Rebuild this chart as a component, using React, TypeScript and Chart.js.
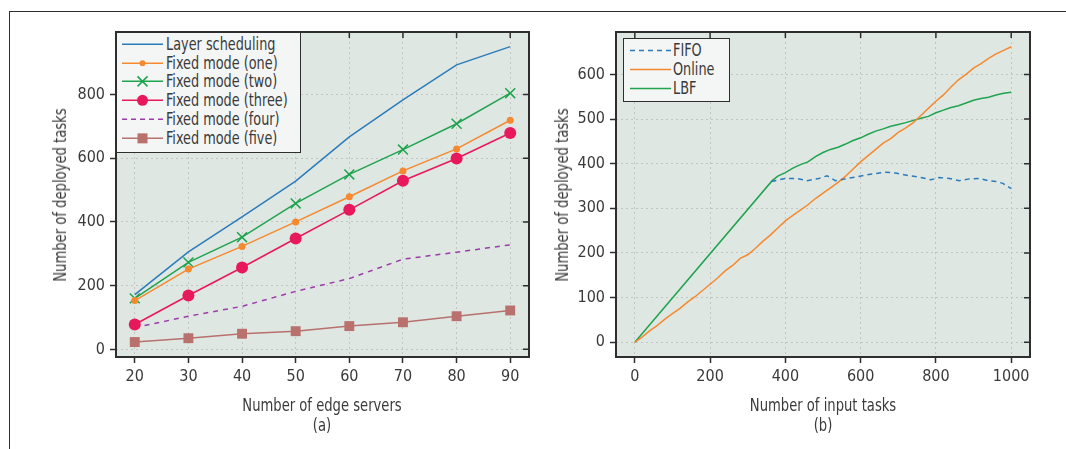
import React, { useEffect, useRef } from 'react';
import { Chart, registerables } from 'chart.js';

Chart.register(...registerables);

// ---------- data: panel (a) ----------
const edgeServers = [20, 30, 40, 50, 60, 70, 80, 90];
const layerScheduling = [172, 306, 416, 528, 667, 783, 893, 950];
const fixedOne = [153, 252, 323, 400, 479, 560, 629, 719];
const fixedTwo = [160, 273, 352, 458, 549, 627, 708, 804];
const fixedThree = [78, 169, 257, 348, 438, 529, 599, 679];
const fixedFour = [68, 104, 135, 182, 222, 283, 305, 328];
const fixedFive = [23, 35, 49, 57, 73, 85, 104, 122];
const leftSeriesNames = [
  'Layer scheduling',
  'Fixed mode (one)',
  'Fixed mode (two)',
  'Fixed mode (three)',
  'Fixed mode (four)',
  'Fixed mode (five)',
];
const leftXTicks = [20, 30, 40, 50, 60, 70, 80, 90];
const leftYTicks = [0, 200, 400, 600, 800];

// ---------- data: panel (b) ----------
const fifoTasks = [363, 400, 431, 458, 489, 511, 533, 560, 591, 622, 667, 693, 729, 756, 787, 809, 836, 862, 889, 916, 938, 960, 978, 1000];
const fifoDeployed = [360, 367, 367, 362, 367, 373, 362, 366, 371, 376, 381, 379, 373, 370, 364, 369, 367, 362, 366, 367, 362, 360, 356, 344];
const onlineTasks = [0, 20, 40, 60, 80, 100, 120, 140, 160, 180, 200, 220, 240, 260, 280, 300, 320, 340, 360, 380, 400, 420, 440, 460, 480, 500, 520, 540, 560, 580, 600, 620, 640, 660, 680, 700, 720, 740, 760, 780, 800, 820, 840, 860, 880, 900, 920, 940, 960, 980, 1000];
const onlineDeployed = [0, 12, 26, 38, 52, 64, 76, 90, 102, 116, 130, 144, 160, 172, 188, 196, 210, 226, 240, 256, 272, 284, 296, 308, 322, 334, 346, 358, 372, 388, 404, 418, 432, 446, 456, 470, 480, 492, 508, 524, 540, 554, 572, 588, 600, 614, 624, 636, 646, 654, 662];
const lbfTasks = [0, 365, 380, 400, 420, 440, 460, 480, 500, 520, 540, 560, 580, 600, 620, 640, 660, 680, 700, 720, 740, 760, 780, 800, 820, 840, 860, 880, 900, 920, 940, 960, 980, 1000];
const lbfDeployed = [0, 362, 372, 380, 390, 398, 404, 416, 425, 432, 437, 444, 452, 458, 466, 473, 478, 484, 488, 492, 497, 502, 506, 514, 520, 526, 530, 536, 542, 546, 549, 554, 558, 560];
const rightSeriesNames = ['FIFO', 'Online', 'LBF'];
const rightXTicks = [0, 200, 400, 600, 800, 1000];
const rightYTicks = [0, 100, 200, 300, 400, 500, 600];

// ---------- styles ----------
const FONT = "'Liberation Sans Narrow', 'DejaVu Sans Condensed', 'Roboto Condensed', Roboto, sans-serif";
const TEXT = '#3a3a3a';
const PLOT_BG = '#dfe7e3';
const LEGEND_BG = '#f3f6f5';
const GRID = '#c4c4c4';
const FRAME = '#2e2e2e';

const C_BLUE = '#2b7bbb';
const C_ORANGE = '#f5892f';
const C_GREEN = '#1fa34f';
const C_RED = '#e8185c';
const C_PURPLE = '#9c3ba9';
const C_BROWN = '#b8716d';

const pts = (xs: number[], ys: number[]) => xs.map((x, i) => ({ x, y: ys[i] }));

const framePlugin = {
  id: 'frame',
  beforeDraw(chart: any) {
    const { ctx, chartArea } = chart;
    const { left, top, right, bottom } = chartArea;
    ctx.save();
    ctx.fillStyle = PLOT_BG;
    ctx.fillRect(left, top, right - left, bottom - top);
    ctx.restore();
  },
  afterDraw(chart: any) {
    const { ctx, chartArea } = chart;
    const { left, top, right, bottom } = chartArea;
    ctx.save();
    ctx.strokeStyle = FRAME;
    ctx.lineWidth = 1.5;
    const xs = chart.scales.x;
    const ys = chart.scales.y;
    ctx.beginPath();
    xs.ticks.forEach((t: any) => {
      const px = xs.getPixelForValue(t.value);
      ctx.moveTo(px, top);
      ctx.lineTo(px, top + 6);
    });
    ys.ticks.forEach((t: any) => {
      const py = ys.getPixelForValue(t.value);
      ctx.moveTo(right, py);
      ctx.lineTo(right - 6, py);
    });
    ctx.stroke();
    ctx.lineWidth = 2;
    ctx.strokeRect(left, top, right - left, bottom - top);
    ctx.restore();
  },
};

type PanelProps = {
  left: number;
  width: number;
  height: number;
  padTop: number;
  padRight: number;
  yAxisWidth: number;
  xAxisHeight: number;
  datasets: any[];
  xMin: number;
  xMax: number;
  yMin: number;
  yMax: number;
  xTicks: number[];
  yTicks: number[];
};

function Panel(p: PanelProps) {
  const ref = useRef<HTMLCanvasElement>(null);
  useEffect(() => {
    const tickFont = { family: FONT, size: 16 };
    const gridOpts = {
      color: GRID,
      lineWidth: 1,
      drawTicks: true,
      tickLength: 6,
      tickColor: FRAME,
      tickWidth: 1.5,
      tickBorderDash: [],
    };
    const chart = new Chart(ref.current as HTMLCanvasElement, {
      type: 'line',
      data: { datasets: p.datasets },
      options: {
        animation: false,
        responsive: false,
        maintainAspectRatio: false,
        layout: { padding: { top: p.padTop, right: p.padRight, left: 0, bottom: 0 } },
        plugins: { legend: { display: false }, tooltip: { enabled: false } },
        elements: { line: { tension: 0 } },
        scales: {
          x: {
            type: 'linear',
            min: p.xMin,
            max: p.xMax,
            afterBuildTicks: (s: any) => {
              s.ticks = p.xTicks.map((v) => ({ value: v }));
            },
            afterFit: (s: any) => {
              s.height = p.xAxisHeight;
            },
            ticks: {
              font: tickFont,
              color: TEXT,
              padding: 4,
              maxRotation: 0,
              autoSkip: false,
              callback: (v: any) => String(v),
            },
            grid: gridOpts,
            border: { display: false, dash: [2, 3] },
          },
          y: {
            type: 'linear',
            min: p.yMin,
            max: p.yMax,
            afterBuildTicks: (s: any) => {
              s.ticks = p.yTicks.map((v) => ({ value: v }));
            },
            afterFit: (s: any) => {
              s.width = p.yAxisWidth;
            },
            ticks: {
              font: tickFont,
              color: TEXT,
              padding: 5,
              autoSkip: false,
              callback: (v: any) => String(v),
            },
            grid: gridOpts,
            border: { display: false, dash: [2, 3] },
          },
        },
      } as any,
      plugins: [framePlugin],
    });
    return () => chart.destroy();
  }, []);
  return (
    <canvas
      ref={ref}
      width={p.width}
      height={p.height}
      style={{ position: 'absolute', left: p.left, top: 0, width: p.width, height: p.height }}
    />
  );
}

function Label(props: { x: number; y: number; text: string; rotate?: boolean }) {
  return (
    <div
      style={{
        position: 'absolute',
        left: props.x,
        top: props.y,
        transform: `translate(-50%, -50%) ${props.rotate ? 'rotate(-90deg) ' : ''}scaleX(0.86)`,
        fontFamily: FONT,
        fontSize: 17,
        lineHeight: '20px',
        color: TEXT,
        whiteSpace: 'nowrap',
      }}
    >
      {props.text}
    </div>
  );
}

type LegendItem = {
  label: string;
  color: string;
  dash?: string;
  marker?: 'dot' | 'circle' | 'cross' | 'square';
};

function Legend(props: {
  left: number;
  top: number;
  width: number;
  height: number;
  rowH: number;
  padTop: number;
  lineX1: number;
  lineX2: number;
  textX: number;
  items: LegendItem[];
}) {
  const { rowH, lineX1, lineX2 } = props;
  const cx = (lineX1 + lineX2) / 2;
  const cy = rowH / 2;
  return (
    <div
      style={{
        position: 'absolute',
        left: props.left,
        top: props.top,
        width: props.width,
        height: props.height,
        boxSizing: 'border-box',
        background: LEGEND_BG,
        border: `1.5px solid ${FRAME}`,
        fontFamily: FONT,
        fontSize: 17,
        color: TEXT,
      }}
    >
      {props.items.map((it, i) => (
        <div
          key={i}
          style={{ position: 'absolute', left: 0, top: props.padTop + i * rowH, height: rowH, width: '100%' }}
        >
          <svg
            width={lineX2 + 2}
            height={rowH}
            style={{ position: 'absolute', left: 0, top: 0, display: 'block' }}
          >
            <line
              x1={lineX1}
              x2={lineX2}
              y1={cy}
              y2={cy}
              stroke={it.color}
              strokeWidth={1.5}
              strokeDasharray={it.dash}
            />
            {it.marker === 'dot' && <circle cx={cx} cy={cy} r={3} fill={it.color} />}
            {it.marker === 'circle' && <circle cx={cx} cy={cy} r={5.5} fill={it.color} />}
            {it.marker === 'cross' && (
              <path
                d={`M${cx - 5} ${cy - 5} L${cx + 5} ${cy + 5} M${cx - 5} ${cy + 5} L${cx + 5} ${cy - 5}`}
                stroke={it.color}
                strokeWidth={1.5}
              />
            )}
            {it.marker === 'square' && <rect x={cx - 5} y={cy - 5} width={10} height={10} fill={it.color} />}
          </svg>
          <span
            style={{
              position: 'absolute',
              left: props.textX,
              top: 0,
              lineHeight: `${rowH}px`,
              whiteSpace: 'nowrap',
              transform: 'scaleX(0.84)',
              transformOrigin: 'left center',
            }}
          >
            {it.label}
          </span>
        </div>
      ))}
    </div>
  );
}

export default function App() {
  const leftDatasets = [
    {
      label: leftSeriesNames[0],
      data: pts(edgeServers, layerScheduling),
      borderColor: C_BLUE,
      borderWidth: 1.5,
      pointRadius: 0,
    },
    {
      label: leftSeriesNames[1],
      data: pts(edgeServers, fixedOne),
      borderColor: C_ORANGE,
      backgroundColor: C_ORANGE,
      borderWidth: 1.5,
      pointStyle: 'circle',
      pointRadius: 3.5,
      pointBorderWidth: 0,
      pointBackgroundColor: C_ORANGE,
    },
    {
      label: leftSeriesNames[2],
      data: pts(edgeServers, fixedTwo),
      borderColor: C_GREEN,
      borderWidth: 1.5,
      pointStyle: 'crossRot',
      pointRadius: 7,
      pointBorderWidth: 1.5,
      pointBorderColor: C_GREEN,
    },
    {
      label: leftSeriesNames[3],
      data: pts(edgeServers, fixedThree),
      borderColor: C_RED,
      backgroundColor: C_RED,
      borderWidth: 1.5,
      pointStyle: 'circle',
      pointRadius: 6,
      pointBorderWidth: 0,
      pointBackgroundColor: C_RED,
    },
    {
      label: leftSeriesNames[4],
      data: pts(edgeServers, fixedFour),
      borderColor: C_PURPLE,
      borderWidth: 1.5,
      borderDash: [5, 5],
      pointRadius: 0,
    },
    {
      label: leftSeriesNames[5],
      data: pts(edgeServers, fixedFive),
      borderColor: C_BROWN,
      backgroundColor: C_BROWN,
      borderWidth: 1.5,
      pointStyle: 'rect',
      pointRadius: 7,
      pointBorderWidth: 0,
      pointBackgroundColor: C_BROWN,
    },
  ];

  const rightDatasets = [
    {
      label: rightSeriesNames[0],
      data: pts(fifoTasks, fifoDeployed),
      borderColor: C_BLUE,
      borderWidth: 1.5,
      borderDash: [5, 4],
      pointRadius: 0,
    },
    {
      label: rightSeriesNames[1],
      data: pts(onlineTasks, onlineDeployed),
      borderColor: C_ORANGE,
      borderWidth: 1.5,
      pointRadius: 0,
    },
    {
      label: rightSeriesNames[2],
      data: pts(lbfTasks, lbfDeployed),
      borderColor: C_GREEN,
      borderWidth: 1.5,
      pointRadius: 0,
    },
  ];

  return (
    <div
      style={{
        position: 'fixed',
        left: 0,
        top: 0,
        width: 1066,
        height: 449,
        background: '#ffffff',
        overflow: 'hidden',
        fontFamily: FONT,
      }}
    >
      <div
        style={{
          position: 'absolute',
          left: 9,
          top: 11,
          width: 1066,
          height: 449,
          borderTop: `1.5px solid ${FRAME}`,
          borderLeft: `1.5px solid ${FRAME}`,
        }}
      />
      <Panel
        left={0}
        width={545}
        height={449}
        padTop={32}
        padRight={16}
        yAxisWidth={116}
        xAxisHeight={92}
        datasets={leftDatasets}
        xMin={16.5}
        xMax={93.5}
        yMin={-24}
        yMax={996}
        xTicks={leftXTicks}
        yTicks={leftYTicks}
      />
      <Panel
        left={545}
        width={521}
        height={449}
        padTop={32}
        padRight={36}
        yAxisWidth={71}
        xAxisHeight={92}
        datasets={rightDatasets}
        xMin={-50}
        xMax={1050}
        yMin={-33}
        yMax={695}
        xTicks={rightXTicks}
        yTicks={rightYTicks}
      />
      <Label x={322} y={405} text="Number of edge servers" />
      <Label x={322} y={425} text="(a)" />
      <Label x={60} y={195} text="Number of deployed tasks" rotate />
      <Label x={823} y={405} text="Number of input tasks" />
      <Label x={823} y={425} text="(b)" />
      <Label x={562} y={195} text="Number of deployed tasks" rotate />
      <Legend
        left={116}
        top={32}
        width={185}
        height={121}
        rowH={18.7}
        padTop={2}
        lineX1={5}
        lineX2={46}
        textX={49}
        items={[
          { label: leftSeriesNames[0], color: C_BLUE },
          { label: leftSeriesNames[1], color: C_ORANGE, marker: 'dot' },
          { label: leftSeriesNames[2], color: C_GREEN, marker: 'cross' },
          { label: leftSeriesNames[3], color: C_RED, marker: 'circle' },
          { label: leftSeriesNames[4], color: C_PURPLE, dash: '5 4' },
          { label: leftSeriesNames[5], color: C_BROWN, marker: 'square' },
        ]}
      />
      <Legend
        left={623}
        top={38}
        width={107}
        height={64}
        rowH={19}
        padTop={2}
        lineX1={6}
        lineX2={47}
        textX={49}
        items={[
          { label: rightSeriesNames[0], color: C_BLUE, dash: '5 4' },
          { label: rightSeriesNames[1], color: C_ORANGE },
          { label: rightSeriesNames[2], color: C_GREEN },
        ]}
      />
    </div>
  );
}
